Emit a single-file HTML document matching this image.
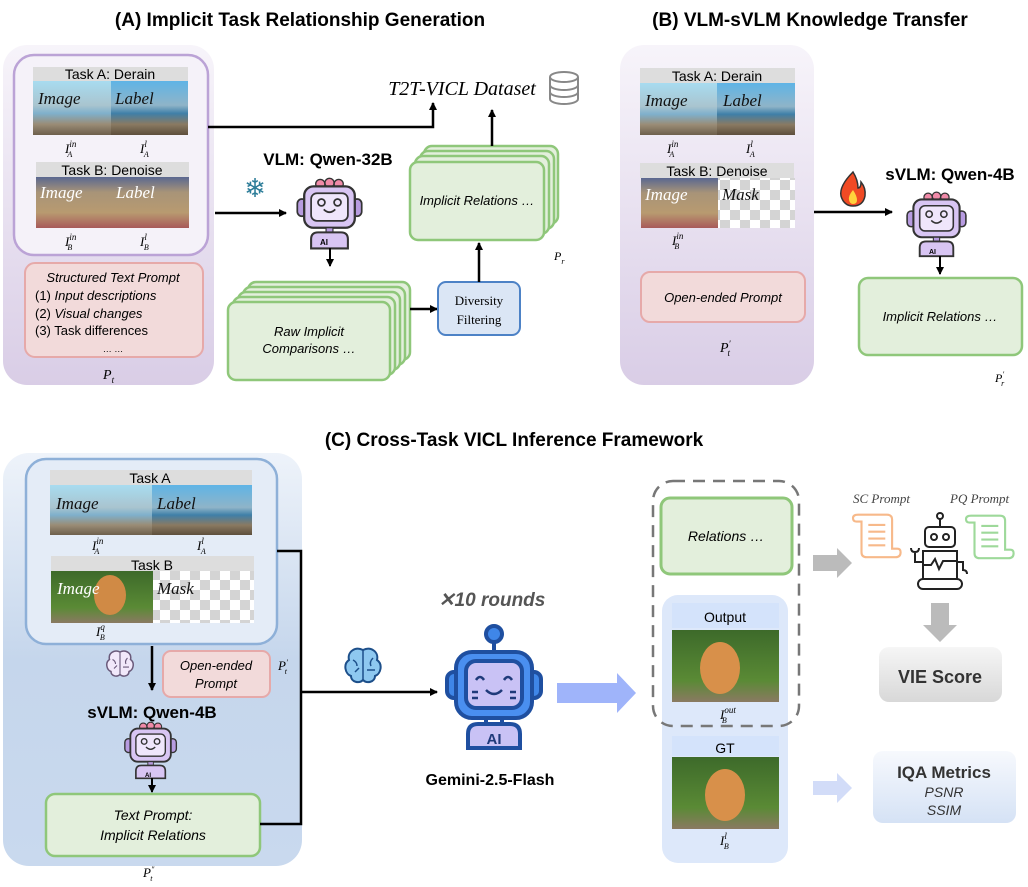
<!DOCTYPE html>
<html><head><meta charset="utf-8"><style>
html,body{margin:0;padding:0;background:#fff}
svg{display:block}
.t{font-family:"Liberation Sans",sans-serif}
.s{font-family:"Liberation Serif",serif;font-style:italic}
</style></head><body>
<svg width="1028" height="887" viewBox="0 0 1028 887" xmlns="http://www.w3.org/2000/svg">
<defs>
<linearGradient id="lav" x1="0" y1="0" x2="0" y2="1"><stop offset="0" stop-color="#f7f4fa"/><stop offset="1" stop-color="#d9cde6"/></linearGradient>
<linearGradient id="blu" x1="0" y1="0" x2="0" y2="1"><stop offset="0" stop-color="#eef3fa"/><stop offset="0.5" stop-color="#c5d6ec"/><stop offset="1" stop-color="#c9d9ee"/></linearGradient>
<linearGradient id="sea" x1="0" y1="0" x2="0" y2="1"><stop offset="0" stop-color="#5fb4e6"/><stop offset="0.45" stop-color="#8fb4c8"/><stop offset="0.6" stop-color="#3f7fa8"/><stop offset="0.8" stop-color="#8a7a62"/><stop offset="1" stop-color="#5e4f3c"/></linearGradient>
<linearGradient id="rain" x1="0" y1="0" x2="0" y2="1"><stop offset="0" stop-color="#a8dcf0"/><stop offset="0.45" stop-color="#a9c4cf"/><stop offset="0.6" stop-color="#7fb0cc"/><stop offset="0.8" stop-color="#9a8c76"/><stop offset="1" stop-color="#6e604c"/></linearGradient>
<linearGradient id="dog" x1="0" y1="0" x2="0" y2="1"><stop offset="0" stop-color="#5a6890"/><stop offset="0.3" stop-color="#a89478"/><stop offset="0.7" stop-color="#b89a70"/><stop offset="1" stop-color="#a85a5a"/></linearGradient>
<linearGradient id="cat" x1="0" y1="0" x2="0" y2="1"><stop offset="0" stop-color="#3d6a2a"/><stop offset="0.7" stop-color="#5a8a35"/><stop offset="1" stop-color="#8a7a62"/></linearGradient>
<linearGradient id="gray" x1="0" y1="0" x2="0" y2="1"><stop offset="0" stop-color="#f6f6f6"/><stop offset="1" stop-color="#d8d8d8"/></linearGradient>
<linearGradient id="iqa" x1="0" y1="0" x2="0" y2="1"><stop offset="0" stop-color="#f7f9fd"/><stop offset="1" stop-color="#d5e2f5"/></linearGradient>
<pattern id="chk" width="20" height="20" patternUnits="userSpaceOnUse"><rect width="20" height="20" fill="#fff"/><rect width="10" height="10" fill="#d4d4d4"/><rect x="10" y="10" width="10" height="10" fill="#d4d4d4"/></pattern>
<marker id="ar" markerWidth="8" markerHeight="8" refX="7" refY="4" orient="auto" markerUnits="userSpaceOnUse"><path d="M0,0 L8,4 L0,8 z" fill="#000"/></marker>
<g id="rb">
<circle cx="22" cy="7" r="4" fill="#f08aa8" stroke="#333" stroke-width="1.2"/><circle cx="30" cy="6" r="4" fill="#f08aa8" stroke="#333" stroke-width="1.2"/><circle cx="38" cy="7" r="4" fill="#f08aa8" stroke="#333" stroke-width="1.2"/>
<rect x="2" y="20" width="8" height="15" rx="4" fill="#b79be0" stroke="#333" stroke-width="1.5"/><rect x="50" y="20" width="8" height="15" rx="4" fill="#b79be0" stroke="#333" stroke-width="1.5"/>
<rect x="8" y="9" width="44" height="36" rx="8" fill="#d8c5f3" stroke="#333" stroke-width="2"/>
<rect x="14" y="15" width="32" height="24" rx="5" fill="#efe6fb" stroke="#333" stroke-width="1.5"/>
<circle cx="23" cy="23" r="3" fill="none" stroke="#333" stroke-width="1.5"/><circle cx="37" cy="23" r="3" fill="none" stroke="#333" stroke-width="1.5"/>
<path d="M25 29 Q30 34 35 29" fill="none" stroke="#333" stroke-width="1.5"/>
<rect x="27" y="45" width="6" height="4" fill="#b79be0" stroke="#333"/>
<path d="M14 63 v-8 q0-6 6-6 h20 q6 0 6 6 v8 z" fill="#d8c5f3" stroke="#333" stroke-width="1.8"/>
</g>
<g id="brain"><path d="M20 4 C12 0 4 6 6 14 C0 18 2 28 8 30 C8 36 16 38 20 34 C24 38 32 36 32 30 C38 28 40 18 34 14 C36 6 28 0 20 4 Z" stroke-width="2"/><path d="M20 4 V34 M10 14 q4 2 4 6 M30 12 q-4 4 -2 8 M24 24 h8 M12 26 l4 -4" fill="none" stroke-width="1.5"/></g>
<g id="scroll"><path d="M10 2 h30 q6 0 6 6 v34 h6 q4 0 4 4 q0 6-6 6 h-34 q-6 0-6-6 v-36 h-6 q-4 0-4-4 q0-4 6-4 z" fill="#fff" stroke-width="2.5"/><path d="M18 14 h20 M18 22 h20 M18 30 h20 M18 38 h20" stroke-width="2.5"/></g>
</defs>

<text x="300" y="26" text-anchor="middle" class="t" font-weight="bold" font-size="19">(A) Implicit Task Relationship Generation</text>
<text x="810" y="26" text-anchor="middle" class="t" font-weight="bold" font-size="19">(B) VLM-sVLM Knowledge Transfer</text>
<text x="514" y="446" text-anchor="middle" class="t" font-weight="bold" font-size="19">(C) Cross-Task VICL Inference Framework</text>

<!-- Panel A -->
<rect x="3" y="45" width="211" height="340" rx="24" fill="url(#lav)"/>
<rect x="14" y="55" width="194" height="200" rx="20" fill="#f5f2f9" stroke="#bba3d6" stroke-width="2.5"/>
<rect x="33" y="67" width="155" height="14" fill="#ddd"/>
<text x="110" y="79" text-anchor="middle" class="t" font-size="14">Task A: Derain</text>
<rect x="33" y="81" width="78" height="54" fill="url(#rain)"/><rect x="111" y="81" width="77" height="54" fill="url(#sea)"/>
<text x="38" y="104" class="s" font-size="17" fill="#111">Image</text><text x="115" y="104" class="s" font-size="17" fill="#111">Label</text>
<text x="65" y="153" class="s" font-size="13">I<tspan font-size="9" dy="-6">in</tspan><tspan font-size="8" dx="-9" dy="10">A</tspan></text>
<text x="140" y="153" class="s" font-size="13">I<tspan font-size="9" dy="-6">l</tspan><tspan font-size="8" dx="-3" dy="10">A</tspan></text>
<rect x="36" y="162" width="153" height="15" fill="#ddd"/>
<text x="112" y="175" text-anchor="middle" class="t" font-size="14">Task B: Denoise</text>
<rect x="36" y="177" width="76" height="51" fill="url(#dog)"/><rect x="112" y="177" width="77" height="51" fill="url(#dog)"/>
<text x="40" y="198" class="s" font-size="17" fill="#fff">Image</text><text x="116" y="198" class="s" font-size="17" fill="#fff">Label</text>
<text x="65" y="246" class="s" font-size="13">I<tspan font-size="9" dy="-6">in</tspan><tspan font-size="8" dx="-9" dy="10">B</tspan></text>
<text x="140" y="246" class="s" font-size="13">I<tspan font-size="9" dy="-6">l</tspan><tspan font-size="8" dx="-3" dy="10">B</tspan></text>
<rect x="25" y="263" width="178" height="94" rx="10" fill="#f2dada" stroke="#e6a9a9" stroke-width="2"/>
<text x="113" y="282" text-anchor="middle" class="t" font-style="italic" font-size="13">Structured Text Prompt</text>
<text x="35" y="300" class="t" font-size="13">(1) <tspan font-style="italic">Input descriptions</tspan></text>
<text x="35" y="318" class="t" font-size="13">(2) <tspan font-style="italic">Visual changes</tspan></text>
<text x="35" y="335" class="t" font-size="13">(3) Task differences</text>
<text x="113" y="352" text-anchor="middle" class="t" font-size="9">… …</text>
<text x="103" y="379" class="s" font-size="14">P<tspan font-size="9" dy="4">t</tspan></text>

<path d="M208 127 H433 V103" fill="none" stroke="#000" stroke-width="2.5" marker-end="url(#ar)"/>
<text x="462" y="95" text-anchor="middle" class="s" font-size="20">T2T-VICL Dataset</text>
<g fill="#fff" stroke="#888" stroke-width="2"><path d="M550 77 v22 a14 5 0 0 0 28 0 v-22"/><ellipse cx="564" cy="77" rx="14" ry="5"/><path d="M550 85 a14 5 0 0 0 28 0 M550 92 a14 5 0 0 0 28 0" fill="none"/></g>
<path d="M215 213 H286" stroke="#000" stroke-width="2.5" marker-end="url(#ar)"/>
<text x="255" y="197" text-anchor="middle" font-size="26" fill="#2d7d99">❄</text>
<text x="328" y="165" text-anchor="middle" class="t" font-weight="bold" font-size="17">VLM: Qwen-32B</text>
<use href="#rb" transform="translate(295,176) scale(1.15)"/>
<text x="320" y="245" class="t" font-weight="bold" font-size="8">AI</text>
<path d="M330 248 V266" stroke="#000" stroke-width="2" marker-end="url(#ar)"/>
<g fill="#e3efdc" stroke="#8fc77a" stroke-width="2.5">
<rect x="248" y="282" width="162" height="78" rx="8"/><rect x="243" y="287" width="162" height="78" rx="8"/><rect x="238" y="292" width="162" height="78" rx="8"/><rect x="233" y="297" width="162" height="78" rx="8"/><rect x="228" y="302" width="162" height="78" rx="8"/></g>
<text x="309" y="336" text-anchor="middle" class="t" font-style="italic" font-size="13">Raw Implicit</text>
<text x="309" y="353" text-anchor="middle" class="t" font-style="italic" font-size="13">Comparisons …</text>
<path d="M410 309 H437" stroke="#000" stroke-width="2.5" marker-end="url(#ar)"/>
<rect x="438" y="282" width="82" height="53" rx="8" fill="#dbe6f5" stroke="#4d82c6" stroke-width="2"/>
<text x="479" y="305" text-anchor="middle" font-family="Liberation Serif,serif" font-size="13">Diversity</text>
<text x="479" y="324" text-anchor="middle" font-family="Liberation Serif,serif" font-size="13">Filtering</text>
<path d="M479 282 V243" stroke="#000" stroke-width="2.5" marker-end="url(#ar)"/>
<g fill="#e3efdc" stroke="#8fc77a" stroke-width="2.5">
<rect x="424" y="146" width="134" height="78" rx="8"/><rect x="420" y="151" width="134" height="78" rx="8"/><rect x="415" y="156" width="134" height="78" rx="8"/><rect x="410" y="162" width="134" height="78" rx="8"/></g>
<text x="477" y="205" text-anchor="middle" class="t" font-style="italic" font-size="13">Implicit Relations …</text>
<text x="554" y="260" class="s" font-size="12">P<tspan font-size="8" dy="4">r</tspan></text>
<path d="M492 146 V110" stroke="#000" stroke-width="2.5" marker-end="url(#ar)"/>

<!-- Panel B -->
<rect x="620" y="45" width="194" height="340" rx="24" fill="url(#lav)"/>
<rect x="640" y="68" width="155" height="15" fill="#ddd"/>
<text x="717" y="81" text-anchor="middle" class="t" font-size="14">Task A: Derain</text>
<rect x="640" y="83" width="77" height="52" fill="url(#rain)"/><rect x="717" y="83" width="78" height="52" fill="url(#sea)"/>
<text x="645" y="106" class="s" font-size="17" fill="#111">Image</text><text x="723" y="106" class="s" font-size="17" fill="#111">Label</text>
<text x="667" y="153" class="s" font-size="13">I<tspan font-size="9" dy="-6">in</tspan><tspan font-size="8" dx="-9" dy="10">A</tspan></text>
<text x="746" y="153" class="s" font-size="13">I<tspan font-size="9" dy="-6">l</tspan><tspan font-size="8" dx="-3" dy="10">A</tspan></text>
<rect x="640" y="163" width="154" height="15" fill="#ddd"/>
<text x="717" y="176" text-anchor="middle" class="t" font-size="14">Task B: Denoise</text>
<rect x="641" y="178" width="77" height="50" fill="url(#dog)"/><rect x="718" y="178" width="77" height="50" fill="url(#chk)"/>
<text x="645" y="200" class="s" font-size="17" fill="#fff">Image</text><text x="722" y="200" class="s" font-size="17" fill="#111">Mask</text>
<text x="672" y="245" class="s" font-size="13">I<tspan font-size="9" dy="-6">in</tspan><tspan font-size="8" dx="-9" dy="10">B</tspan></text>
<rect x="641" y="272" width="164" height="50" rx="9" fill="#f2dada" stroke="#e6a9a9" stroke-width="2"/>
<text x="723" y="302" text-anchor="middle" class="t" font-style="italic" font-size="13">Open-ended Prompt</text>
<text x="720" y="352" class="s" font-size="14">P<tspan font-size="9" dy="-5">′</tspan><tspan font-size="9" dx="-3" dy="9">t</tspan></text>
<path d="M814 212 H892" stroke="#000" stroke-width="2.5" marker-end="url(#ar)"/>
<path d="M853 172 q-14 14-12 24 q3 10 12 10 q10 0 12-10 q1-8-4-14 q0 6-3 6 q0-8-5-16z" fill="#f04a24" stroke="#333" stroke-width="1.5"/>
<path d="M853 190 q-5 6-4 10 q1 4 4 4 q4 0 4-4 q0-4-4-10z" fill="#ffd23c"/>
<text x="950" y="180" text-anchor="middle" class="t" font-weight="bold" font-size="17">sVLM: Qwen-4B</text>
<use href="#rb" transform="translate(905,190) scale(1.05)"/>
<text x="929" y="254" class="t" font-weight="bold" font-size="7">AI</text>
<path d="M940 256 V274" stroke="#000" stroke-width="2" marker-end="url(#ar)"/>
<rect x="859" y="278" width="163" height="77" rx="9" fill="#e3efdc" stroke="#8fc77a" stroke-width="2.5"/>
<text x="940" y="321" text-anchor="middle" class="t" font-style="italic" font-size="13">Implicit Relations …</text>
<text x="995" y="382" class="s" font-size="12">P<tspan font-size="8" dy="-5">′</tspan><tspan font-size="8" dx="-3" dy="9">r</tspan></text>

<!-- Panel C -->
<rect x="3" y="453" width="299" height="413" rx="26" fill="url(#blu)"/>
<rect x="26" y="459" width="251" height="185" rx="20" fill="#e4ecf7" stroke="#8eb0d8" stroke-width="2.5"/>
<rect x="50" y="470" width="202" height="15" fill="#ddd"/>
<text x="150" y="483" text-anchor="middle" class="t" font-size="14">Task A</text>
<rect x="50" y="485" width="102" height="50" fill="url(#rain)"/><rect x="152" y="485" width="100" height="50" fill="url(#sea)"/>
<text x="56" y="509" class="s" font-size="17" fill="#111">Image</text><text x="157" y="509" class="s" font-size="17" fill="#111">Label</text>
<text x="92" y="550" class="s" font-size="13">I<tspan font-size="9" dy="-6">in</tspan><tspan font-size="8" dx="-9" dy="10">A</tspan></text>
<text x="197" y="550" class="s" font-size="13">I<tspan font-size="9" dy="-6">l</tspan><tspan font-size="8" dx="-3" dy="10">A</tspan></text>
<rect x="51" y="556" width="203" height="15" fill="#ddd"/>
<text x="152" y="570" text-anchor="middle" class="t" font-size="14">Task B</text>
<rect x="51" y="571" width="102" height="52" fill="url(#cat)"/>
<ellipse cx="110" cy="595" rx="16" ry="20" fill="#d08a45"/>
<rect x="153" y="571" width="101" height="52" fill="url(#chk)"/>
<text x="57" y="594" class="s" font-size="17" fill="#fff">Image</text><text x="157" y="594" class="s" font-size="17" fill="#111">Mask</text>
<text x="96" y="636" class="s" font-size="13">I<tspan font-size="9" dy="-6">q</tspan><tspan font-size="8" dx="-5" dy="10">B</tspan></text>
<use href="#brain" transform="translate(105,649) scale(0.75)" fill="#f1e8fa" stroke="#6a5a7a"/>
<path d="M152 646 V690" stroke="#000" stroke-width="2.5" marker-end="url(#ar)"/>
<rect x="163" y="651" width="107" height="46" rx="8" fill="#f2dada" stroke="#e6a9a9" stroke-width="2"/>
<text x="216" y="670" text-anchor="middle" class="t" font-style="italic" font-size="13">Open-ended</text>
<text x="216" y="688" text-anchor="middle" class="t" font-style="italic" font-size="13">Prompt</text>
<text x="278" y="670" class="s" font-size="13">P<tspan font-size="8" dy="-5">′</tspan><tspan font-size="8" dx="-3" dy="9">t</tspan></text>
<text x="152" y="718" text-anchor="middle" class="t" font-weight="bold" font-size="17">sVLM: Qwen-4B</text>
<use href="#rb" transform="translate(123,724) scale(0.92) translate(0,-4)"/>
<text x="145" y="777" class="t" font-weight="bold" font-size="6">AI</text>
<path d="M152 778 V792" stroke="#000" stroke-width="2" marker-end="url(#ar)"/>
<rect x="46" y="794" width="214" height="62" rx="9" fill="#e3efdc" stroke="#8fc77a" stroke-width="2.5"/>
<text x="153" y="820" text-anchor="middle" class="t" font-style="italic" font-size="14">Text Prompt:</text>
<text x="153" y="840" text-anchor="middle" class="t" font-style="italic" font-size="14">Implicit Relations</text>
<text x="143" y="877" class="s" font-size="13">P<tspan font-size="8" dy="-5">″</tspan><tspan font-size="8" dx="-4" dy="9">t</tspan></text>
<path d="M277 551 H301 V824 H260" fill="none" stroke="#000" stroke-width="2.5"/>
<path d="M301 692 H437" stroke="#000" stroke-width="2.5" marker-end="url(#ar)"/>
<use href="#brain" transform="translate(343,646) scale(1.0)" fill="#8ec8f0" stroke="#1d4f8a"/>
<text x="492" y="606" text-anchor="middle" class="t" font-weight="bold" font-style="italic" font-size="19" fill="#555">✕10 rounds</text>
<g stroke="#1f4fa0" stroke-width="4">
<line x1="494" y1="642" x2="494" y2="652"/>
<circle cx="494" cy="634" r="8" fill="#3f86e8"/>
<rect x="447" y="672" width="14" height="26" rx="7" fill="#3f86e8"/><rect x="527" y="672" width="14" height="26" rx="7" fill="#3f86e8"/>
<rect x="456" y="652" width="76" height="66" rx="16" fill="#4a8ff0"/>
<rect x="466" y="661" width="56" height="47" rx="10" fill="#c9c2f5"/>
<path d="M486 718 v6 M502 718 v6" fill="none"/>
<path d="M468 748 v-14 q0-10 10-10 h32 q10 0 10 10 v14 z" fill="#c9c2f5"/>
</g>
<g stroke="#1f3a7a" stroke-width="2.5" fill="none"><path d="M476 680 q4-6 8 0 M504 680 q4-6 8 0 M486 690 q8 8 16 0 M472 692 h6 M472 698 h6 M510 692 h6 M510 698 h6"/></g>
<text x="494" y="744" text-anchor="middle" class="t" font-weight="bold" font-size="15" fill="#1f3a7a">AI</text>
<text x="490" y="785" text-anchor="middle" class="t" font-weight="bold" font-size="16">Gemini-2.5-Flash</text>
<path d="M557 683 H617 V673 L636 693 L617 713 V703 H557 Z" fill="#9fb4fa"/>

<rect x="662" y="595" width="126" height="268" rx="16" fill="#dde8fa"/>
<rect x="653" y="481" width="146" height="245" rx="20" fill="none" stroke="#777" stroke-width="2.5" stroke-dasharray="12,8"/>
<rect x="661" y="498" width="131" height="76" rx="9" fill="#e3efdc" stroke="#8fc77a" stroke-width="3"/>
<text x="726" y="541" text-anchor="middle" class="t" font-style="italic" font-size="14">Relations …</text>
<rect x="672" y="603" width="107" height="25" fill="#d4e3fb"/>
<text x="725" y="622" text-anchor="middle" class="t" font-size="14">Output</text>
<rect x="672" y="630" width="107" height="72" fill="url(#cat)"/>
<ellipse cx="720" cy="668" rx="20" ry="26" fill="#d8904a"/>
<text x="720" y="719" class="s" font-size="13">I<tspan font-size="9" dy="-6">out</tspan><tspan font-size="8" dx="-14" dy="10">B</tspan></text>
<rect x="672" y="736" width="107" height="20" fill="#d4e3fb"/>
<text x="725" y="753" text-anchor="middle" class="t" font-size="14">GT</text>
<rect x="672" y="757" width="107" height="72" fill="url(#cat)"/>
<ellipse cx="725" cy="795" rx="20" ry="26" fill="#d8904a"/>
<text x="720" y="845" class="s" font-size="13">I<tspan font-size="9" dy="-6">l</tspan><tspan font-size="8" dx="-3" dy="10">B</tspan></text>

<path d="M813 555 H837 V548 L852 563 L837 578 V571 H813 Z" fill="#bbb"/>
<text x="853" y="503" class="s" font-size="13" fill="#444">SC Prompt</text>
<text x="950" y="503" class="s" font-size="13" fill="#444">PQ Prompt</text>
<use href="#scroll" transform="translate(853,513) scale(0.85)" stroke="#f7b98a"/>
<use href="#scroll" transform="translate(966,514) scale(0.85)" stroke="#9ed99a"/>
<g stroke="#222" stroke-width="2" fill="#fff">
<line x1="940" y1="517" x2="940" y2="527"/><circle cx="940" cy="516" r="3"/>
<rect x="925" y="527" width="30" height="20" rx="4"/><circle cx="934" cy="537" r="3"/><circle cx="946" cy="537" r="3"/>
<rect x="923" y="551" width="34" height="28"/><path d="M923 565 h8 l4 -6 l4 10 l4 -8 h14" fill="none"/>
<path d="M923 562 h-8 v-10 M915 552 q-4 0 -4 -4 M915 552 q4 0 4 -4" fill="none"/>
<path d="M957 562 h6 v8 q4 0 4 4" fill="none"/>
<rect x="918" y="579" width="44" height="10" rx="5"/>
</g>
<path d="M931 603 H949 V625 H957 L940 642 L923 625 H931 Z" fill="#bbb"/>
<rect x="879" y="647" width="123" height="55" rx="10" fill="url(#gray)"/>
<text x="940" y="683" text-anchor="middle" class="t" font-weight="bold" font-size="18" fill="#333">VIE Score</text>
<path d="M813 781 H837 V773 L852 788 L837 803 V795 H813 Z" fill="#d2dcf8"/>
<rect x="873" y="751" width="143" height="72" rx="10" fill="url(#iqa)"/>
<text x="944" y="778" text-anchor="middle" class="t" font-weight="bold" font-size="17" fill="#333">IQA Metrics</text>
<text x="944" y="797" text-anchor="middle" class="t" font-style="italic" font-size="14" fill="#333">PSNR</text>
<text x="944" y="815" text-anchor="middle" class="t" font-style="italic" font-size="14" fill="#333">SSIM</text>
</svg>
</body></html>
